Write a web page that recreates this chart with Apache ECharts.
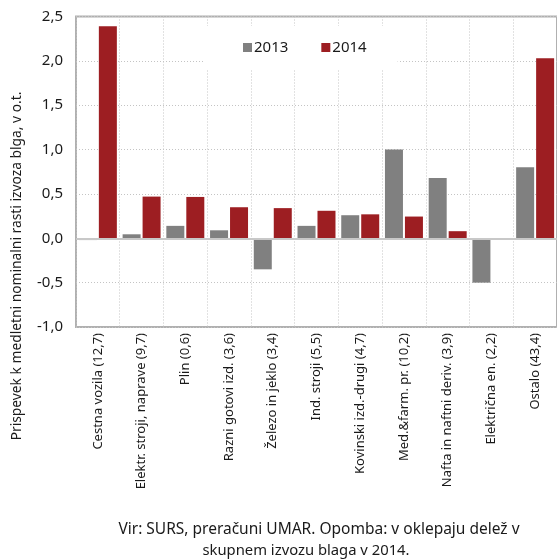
<!DOCTYPE html>
<html>
<head>
<meta charset="utf-8">
<script src="https://cdn.jsdelivr.net/npm/echarts@6/dist/echarts.min.js"></script>
<style>
  html, body { margin: 0; padding: 0; background: #fff; }
  #chart { width: 557px; height: 559px; }
</style>
</head>
<body>
<div id="chart"></div>
<script>
const categories = [
  'Cestna vozila (12,7)',
  'Elektr. stroji, naprave (9,7)',
  'Plin (0,6)',
  'Razni gotovi izd. (3,6)',
  'Železo in jeklo (3,4)',
  'Ind. stroji (5,5)',
  'Kovinski izd.-drugi (4,7)',
  'Med.&farm. pr. (10,2)',
  'Nafta in naftni deriv. (3,9)',
  'Električna en. (2,2)',
  'Ostalo (43,4)'
]
const values2013 = [-0.02, 0.045, 0.14, 0.09, -0.35, 0.14, 0.26, 1.0, 0.68, -0.5, 0.8]
const values2014 = [2.39, 0.47, 0.466, 0.35, 0.34, 0.31, 0.27, 0.245, 0.08, 0.0, 2.03]
const yTicks = { min: -1, max: 2.5, step: 0.5 }
const yName = 'Prispevek k medletni nominalni rasti izvoza blga, v o.t.'
const noteLines = ['Vir: SURS, preračuni UMAR. Opomba: v oklepaju delež v', 'skupnem izvozu blaga v 2014.']

const font = 'Noto Sans'
const grey = '#808080'
const red = '#9d1e22'
const gridLine = { color: '#c4c4c4', type: [1, 2], width: 1 }

const chart = echarts.init(document.getElementById('chart'))
chart.setOption({
  animation: false,
  textStyle: { fontFamily: font },
  grid: {
    left: 76, right: -5, top: 16.5, bottom: 232,
    show: true, borderColor: '#b0b0b0', borderWidth: 2
  },
  legend: {
    data: ['2013', '2014'],
    left: 205, top: 26,
    padding: [14, 31, 14, 38],
    itemGap: 33,
    itemWidth: 9, itemHeight: 9,
    icon: 'rect',
    backgroundColor: '#fff',
    textStyle: { fontSize: 15, color: '#1a1a1a', padding: [0, 0, 0, -3] }
  },
  xAxis: {
    type: 'category',
    data: categories,
    axisLine: { onZero: false, show: false },
    axisTick: { show: false },
    splitLine: { show: true, interval: 0, lineStyle: gridLine },
    axisLabel: { rotate: 90, interval: 0, margin: 6, fontSize: 13, color: '#1a1a1a' }
  },
  yAxis: {
    type: 'value',
    min: yTicks.min, max: yTicks.max, interval: yTicks.step,
    axisLine: { show: false },
    axisTick: { show: false },
    splitLine: { lineStyle: gridLine },
    axisLabel: {
      fontSize: 15, color: '#1a1a1a', margin: 13,
      formatter: v => v.toFixed(1).replace('.', ',')
    }
  },
  graphic: [
    {
      type: 'text', x: 17, y: 266, rotation: Math.PI / 2,
      style: { text: yName, fontFamily: font, fontSize: 13.8, fill: '#1a1a1a', align: 'center', verticalAlign: 'middle' }
    },
    {
      type: 'text', x: 319, y: 530,
      style: { text: noteLines[0], fontFamily: font, fontSize: 15.5, fill: '#1a1a1a', align: 'center', verticalAlign: 'middle' }
    },
    {
      type: 'text', x: 306, y: 551,
      style: { text: noteLines[1], fontFamily: font, fontSize: 14.8, fill: '#1a1a1a', align: 'center', verticalAlign: 'middle' }
    }
  ],
  series: [
    {
      name: '2013', type: 'bar', data: values2013,
      barWidth: 18, barGap: '11%',
      itemStyle: { color: grey },
      markLine: {
        silent: true, symbol: 'none', label: { show: false },
        lineStyle: { color: '#c8c8c8', type: 'solid', width: 2 },
        data: [{ yAxis: 0 }]
      }
    },
    {
      name: '2014', type: 'bar', data: values2014,
      barWidth: 18,
      itemStyle: { color: red }
    }
  ]
})
</script>
</body>
</html>
